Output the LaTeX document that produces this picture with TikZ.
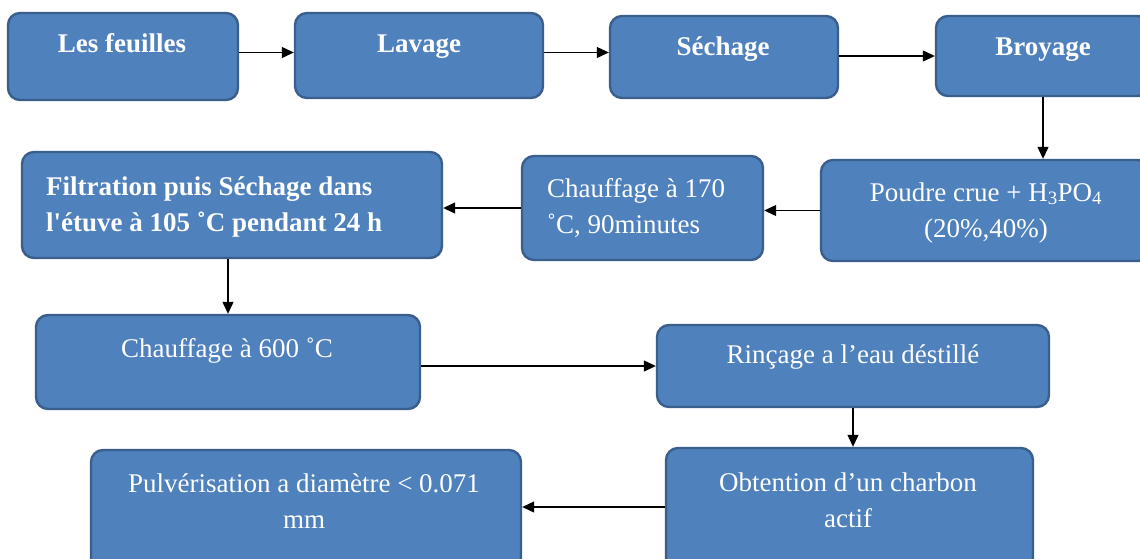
\documentclass[tikz,border=0pt]{standalone}
\usepackage{fontspec}
\setmainfont{Liberation Serif}
\usepackage{tikz}
\usetikzlibrary{arrows.meta}

\definecolor{bleu}{HTML}{4F81BD}
\definecolor{bordbleu}{HTML}{3A5F8C}
\newcommand{\taille}{\fontsize{27}{36}\selectfont}

\tikzset{
	etape/.style={draw=bordbleu,fill=bleu,line width=2.4pt,rounded corners=12pt,inner sep=0pt},
	texte/.style={text=white,font=\taille,anchor=base,align=center,inner sep=0pt},
	fleche/.style={-{Triangle[length=12pt,width=11pt]},line width=1.2pt,black}
}

\begin{document}
\begin{tikzpicture}[x=1pt,y=-1pt]
	
	\useasboundingbox (0,0) rectangle (1140,558);
	
	% les boites
	\node[etape,minimum width=230pt,minimum height=87pt]  (feuilles) at (123, 56.5)      {};
	\node[etape,minimum width=248pt,minimum height=85pt]  (lavage) at (419, 55.5)        {};
	\node[etape,minimum width=228pt,minimum height=82pt]  (sechage) at (724, 57)         {};
	\node[etape,minimum width=214pt,minimum height=80pt]  (broyage) at (1043, 56)        {};
	\node[etape,minimum width=329pt,minimum height=101pt] (poudre) at (985.5, 210.5)     {};
	\node[etape,minimum width=241pt,minimum height=104pt] (chauffe1) at (642.5, 208)     {};
	\node[etape,minimum width=420pt,minimum height=106pt] (filtration) at (232, 205)     {};
	\node[etape,minimum width=384pt,minimum height=94pt]  (chauffe2) at (228, 362)       {};
	\node[etape,minimum width=392pt,minimum height=82pt]  (rincage) at (853, 366)        {};
	\node[etape,minimum width=367pt,minimum height=122pt] (obtention) at (849.5, 509)    {};
	\node[etape,minimum width=430pt,minimum height=120pt] (pulverisation) at (306, 510)  {};
	
	% les textes
	\node[texte,font=\taille\bfseries] (feuilles-t) at (122, 52)    {Les feuilles};
	\node[texte,font=\taille\bfseries] (lavage-t) at (419, 52)      {Lavage};
	\node[texte,font=\taille\bfseries] (sechage-t) at (723, 55)     {Séchage};
	\node[texte,font=\taille\bfseries] (broyage-t) at (1043, 55)    {Broyage};
	\node[texte] (poudre-t) at (986, 237)       {Poudre crue + H\textsubscript{3}PO\textsubscript{4}\\(20\%,40\%)};
	\node[texte,align=left,anchor=base west] (chauffe1-t) at (547, 233)     {Chauffage à 170\\˚C, 90minutes};
	\node[texte,font=\taille\bfseries,align=left,anchor=base west] (filtration-t) at (46, 231)   {Filtration puis Séchage dans\\l\textquotesingle étuve à 105 ˚C pendant 24 h};
	\node[texte] (chauffe2-t) at (227, 357)     {Chauffage à 600 ˚C};
	\node[texte] (rincage-t) at (853, 363)      {Rinçage a l’eau déstillé};
	\node[texte] (obtention-t) at (848, 527)    {Obtention d’un charbon\\actif};
	\node[texte] (pulverisation-t) at (304, 528) {Pulvérisation a diamètre < 0.071\\mm};
	
	% les fleches
	\path[fleche] ([yshift=4pt]feuilles.east) edge ([yshift=4pt]feuilles.east -| lavage.west);
	\path[fleche] ([yshift=3pt]lavage.east) edge ([yshift=3pt]lavage.east -| sechage.west);
	\path[fleche] (broyage.west -| sechage.east) edge (broyage.west);
	\path[fleche] (broyage.south) edge (broyage.south |- poudre.north);
	\path[fleche] (poudre.west) edge (poudre.west -| chauffe1.east);
	\path[fleche] (chauffe1.west) edge (chauffe1.west -| filtration.east);
	\path[fleche] (chauffe2.north |- filtration.south) edge (chauffe2.north);
	\path[fleche] (rincage.west -| chauffe2.east) edge (rincage.west);
	\path[fleche] (rincage.south) edge (rincage.south |- obtention.north);
	\path[fleche] ([yshift=2pt]obtention.west) edge ([yshift=2pt]obtention.west -| pulverisation.east);
	
\end{tikzpicture}
\end{document}
